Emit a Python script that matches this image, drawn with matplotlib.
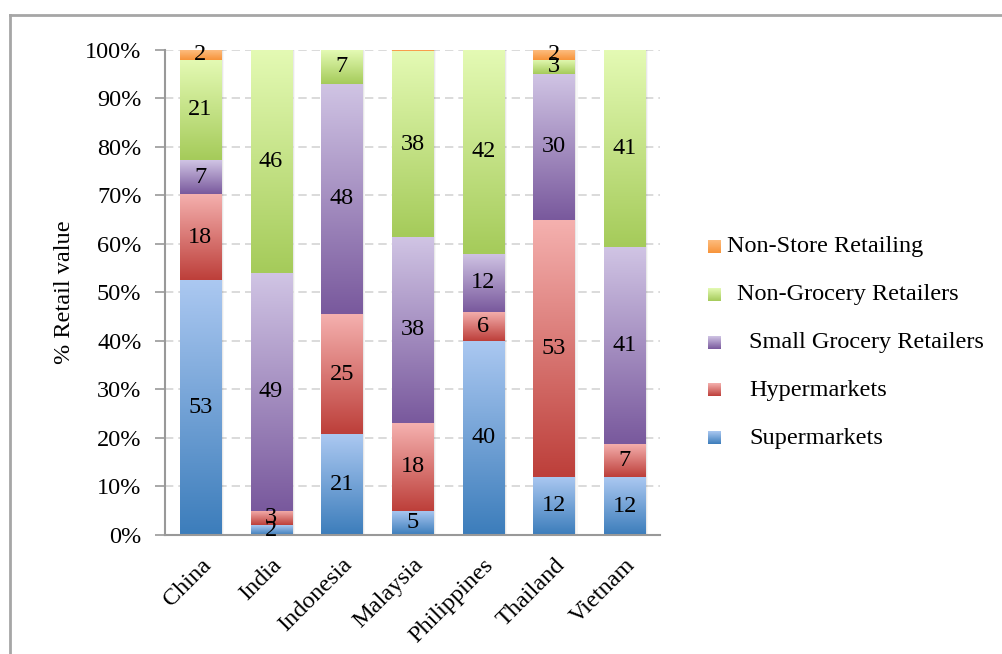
import numpy as np
import matplotlib
matplotlib.use("Agg")
import matplotlib.pyplot as plt
from matplotlib.colors import LinearSegmentedColormap
from matplotlib.patches import Rectangle
from matplotlib.lines import Line2D

plt.rcParams['font.family'] = ['Liberation Serif', 'DejaVu Serif']

# retail value share by channel (%)
countries = ['China', 'India', 'Indonesia', 'Malaysia', 'Philippines', 'Thailand', 'Vietnam']
supermarkets = [53, 2, 21, 5, 40, 12, 12]
hypermarkets = [18, 3, 25, 18, 6, 53, 7]
small_grocery = [7, 49, 48, 38, 12, 30, 41]
non_grocery = [21, 46, 7, 38, 42, 3, 41]
non_store = [2, 0, 0, 0.3, 0, 2, 0]

series_names = ['Supermarkets', 'Hypermarkets', 'Small Grocery Retailers',
                'Non-Grocery Retailers', 'Non-Store Retailing']
series = [supermarkets, hypermarkets, small_grocery, non_grocery, non_store]
# (bottom colour, top colour) for each channel's gradient
grads = [('#3c7dbb', '#abc8f1'),
         ('#bd3f3a', '#f5b1af'),
         ('#79599d', '#d0c4e4'),
         ('#a5cb5a', '#e4fab4'),
         ('#f7943a', '#fdbc7e')]

FS = 17.5

fig = plt.figure(figsize=(10.02, 6.54), dpi=100)
ax = fig.add_axes([0.1647, 0.182, 0.494, 0.7416])

vals = np.array(series, dtype=float)
shares = vals / vals.sum(axis=0) * 100
width = 0.58
x = np.arange(len(countries))

ramp = np.linspace(0, 1, 128).reshape(-1, 1)
bottoms = np.zeros(len(countries))

# soft shadow on the right of each bar
for off, a in [(0.012, 0.10), (0.028, 0.06), (0.045, 0.03)]:
    for xi in x:
        ax.add_patch(Rectangle((xi - width / 2 + off, -0.6), width, 100.6,
                               facecolor='#000000', alpha=a, lw=0, zorder=1))

cmaps = [LinearSegmentedColormap.from_list(n, g) for n, g in zip(series_names, grads)]

for k in range(len(series)):
    for i in range(len(countries)):
        h = shares[k, i]
        if h <= 0:
            continue
        b = bottoms[i]
        ax.imshow(ramp, cmap=cmaps[k], origin='lower', aspect='auto',
                  extent=(x[i] - width / 2, x[i] + width / 2, b, b + h),
                  interpolation='bilinear', zorder=2)
        if vals[k, i] >= 1:
            ax.text(x[i], b + h / 2, f'{vals[k, i]:g}', ha='center', va='center',
                    fontsize=FS, color='black', zorder=4)
    bottoms += shares[k]

ax.set_xlim(-0.5, 6.5)
ax.set_ylim(0, 100)
ax.set_yticks(np.arange(0, 101, 10))
ax.set_yticklabels([f'{v}%' for v in range(0, 101, 10)], fontsize=FS)
ax.set_xticks(x)
ax.set_xticklabels(countries, fontsize=FS, rotation=45, ha='right',
                   rotation_mode='anchor')
ax.tick_params(axis='x', length=0, pad=14)
ax.tick_params(axis='y', length=7, width=1.2, color='#999999', pad=10)
ax.set_ylabel('% Retail value', fontsize=FS)
ax.yaxis.set_label_coords(-0.182, 0.5)

ax.yaxis.grid(True, linestyle=(0, (5, 3)), color='#d4d4d4', lw=1.2, zorder=0)
ax.set_axisbelow(True)
for s in ['top', 'right']:
    ax.spines[s].set_visible(False)
for s in ['left', 'bottom']:
    ax.spines[s].set_color('#999999')
    ax.spines[s].set_linewidth(1.5)

# legend, top entry first
leg_rows = [(4, 'Non-Store Retailing', 727),
            (3, 'Non-Grocery Retailers', 737),
            (2, 'Small Grocery Retailers', 749),
            (1, 'Hypermarkets', 749),
            (0, 'Supermarkets', 749)]
for r, (k, label, tx) in enumerate(leg_rows):
    yc = 1 - (247 + r * 47.8) / 654
    sq = fig.add_axes([708 / 1002, yc - 6 / 654, 13 / 1002, 13 / 654])
    sq.imshow(ramp, cmap=cmaps[k], origin='lower', aspect='auto')
    sq.set_axis_off()
    fig.text(tx / 1002, yc, label, fontsize=FS, va='center', ha='left')

# frame around the chart
fig.add_artist(Line2D([10 / 1002, 1.0], [1 - 15 / 654] * 2, transform=fig.transFigure,
                      color='#a6a6a6', lw=2))
fig.add_artist(Line2D([10 / 1002] * 2, [0, 1 - 15 / 654], transform=fig.transFigure,
                      color='#a6a6a6', lw=2))

fig.savefig('out.png', dpi=100)
